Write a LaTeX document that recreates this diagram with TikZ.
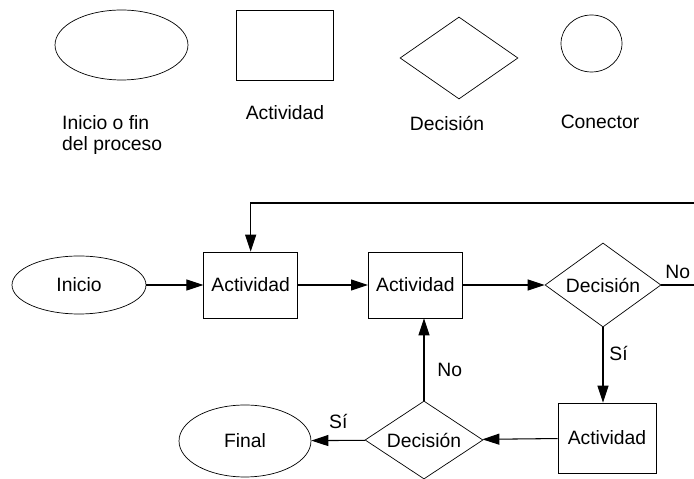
\documentclass[tikz,border=0pt]{standalone}
\usepackage{fontspec}
\setmainfont{Liberation Sans}
\usetikzlibrary{arrows.meta, positioning, shapes.geometric, calc}

\begin{document}
\begin{tikzpicture}[
		x=0.02cm, y=-0.02cm,
		node distance=1.4cm and 1.4cm,
		every node/.style={font=\fontsize{11}{11.4}\selectfont},
		terminal/.style={ellipse, draw, minimum width=2.68cm, minimum height=1.16cm, inner sep=0pt},
		activity/.style={rectangle, draw, minimum width=1.88cm, minimum height=1.32cm, inner sep=1pt},
		decision/.style={diamond, draw, aspect=1.4, minimum width=2.32cm, minimum height=1.68cm, inner sep=0pt},
		connector/.style={ellipse, draw, minimum width=1.22cm, minimum height=1.14cm, inner sep=0pt},
		arrow/.style={-{Triangle[length=3.4mm, width=2.2mm]}, line width=0.6pt},
		line/.style={line width=0.6pt}
		]
		\useasboundingbox (0,0) rectangle (694,479);
		
		% Legend
		\node[terminal, minimum width=2.66cm, minimum height=1.4cm] (keyTerminal) at (121.5,45) {};
		\node[activity, minimum width=1.94cm, minimum height=1.4cm] (keyActivity) at (284.5,45) {};
		\node[decision, minimum width=2.36cm, minimum height=1.64cm] (keyDecision) at (459,58) {};
		\node[connector] (keyConnector) at (591.5,43.5) {};
		
		\node[align=left, anchor=west] (lblTerminal) at (56,135) {Inicio o fin\\del proceso};
		\node (lblActivity) at (285,113) {Actividad};
		\node (lblDecision) at (447,123) {Decisión};
		\node (lblConnector) at (600,122) {Conector};
		
		% Flow
		\node[terminal] (inicio) at (79,285) {Inicio};
		\node[activity, right=1.14cm of inicio] (act1) {Actividad};
		\node[activity, right=1.4cm of act1] (act2) {Actividad};
		\node[decision, right=1.64cm of act2] (dec1) {Decisión};
		\node[activity, minimum width=1.96cm, minimum height=1.4cm] (act3) at (607,438) {Actividad};
		\node[decision, minimum width=2.36cm, minimum height=1.56cm] (dec2) at (424,440) {Decisión};
		\node[terminal, minimum width=2.64cm, minimum height=1.44cm] (final) at (245,441) {Final};
		\coordinate (rim) at (694,203);
		
		% Connections
		\draw[arrow] (inicio) -- (act1);
		\draw[arrow] (act1) -- (act2);
		\draw[arrow] (act2) -- (dec1);
		\draw[line] (dec1.east) -- node[above] {No} (dec1.east -| rim);
		\draw[arrow] (rim) -| (act1.north);
		\draw[arrow] (dec1.south) -- node[right, pos=0.35] {Sí} (dec1.south |- act3.north);
		\draw[arrow] (act3) -- (dec2);
		\draw[arrow] (dec2.north) -- node[right, pos=0.37, xshift=4pt] {No} (dec2.north |- act2.south);
		\draw[arrow] (dec2) -- node[above, yshift=3pt] {Sí} (final);
		
	\end{tikzpicture}
\end{document}
